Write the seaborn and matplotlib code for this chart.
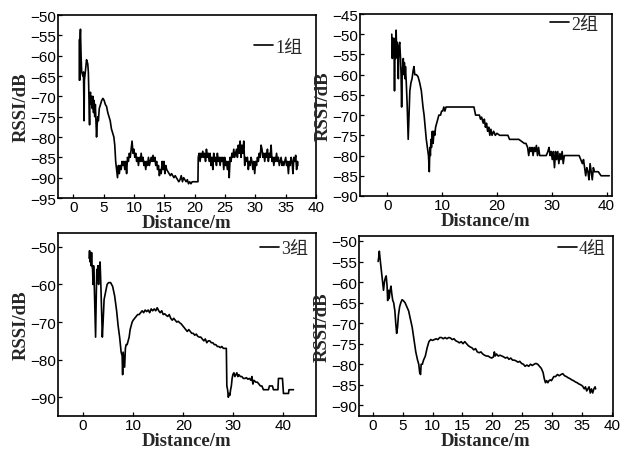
import numpy as np
import matplotlib
matplotlib.use("Agg")
import matplotlib.pyplot as plt
import seaborn as sns

group1 = [
    (1.0, -66), (1.05, -56), (1.1, -66), (1.15, -55), (1.2, -53.5), (1.3, -60), (1.4, -64), (1.6, -65),
    (1.7, -64), (1.8, -76), (1.85, -66), (2.0, -64), (2.2, -61), (2.4, -62), (2.5, -64), (2.6, -70),
    (2.7, -77), (2.75, -70), (2.85, -69), (2.95, -72), (3.05, -70), (3.15, -73), (3.25, -70), (3.35, -74),
    (3.45, -71), (3.55, -75), (3.65, -72), (3.75, -76), (3.85, -80), (3.95, -77), (4.05, -75), (4.15, -76),
    (4.3, -73), (4.5, -72), (4.7, -71), (4.9, -70.5), (5.1, -71), (5.3, -72), (5.5, -72.5), (5.7, -74),
    (5.9, -75), (6.1, -76), (6.3, -78), (6.5, -79), (6.7, -80), (6.85, -82), (7.0, -86), (7.15, -88),
    (7.3, -90), (7.45, -87), (7.6, -89), (7.75, -87), (7.9, -88), (8.05, -86), (8.2, -87), (8.35, -86),
    (8.5, -88), (8.65, -86), (8.8, -89), (8.95, -85), (9.1, -86), (9.25, -84), (9.4, -85), (9.55, -83),
    (9.7, -81), (9.85, -84), (10.0, -83), (10.15, -85), (10.3, -84), (10.45, -86), (10.6, -85), (10.75, -87),
    (10.9, -85), (11.05, -86), (11.2, -84), (11.35, -86), (11.5, -85), (11.65, -87), (11.8, -86), (11.95, -88),
    (12.1, -86), (12.25, -87), (12.4, -85), (12.55, -87), (12.7, -86), (12.85, -85), (13.0, -86), (13.15, -84.5),
    (13.3, -86), (13.45, -85), (13.6, -87), (13.75, -86), (13.9, -88), (14.05, -87), (14.2, -89.5), (14.35, -88),
    (14.5, -89), (14.65, -86), (14.8, -88), (14.95, -86), (15.1, -89), (15.25, -87), (15.4, -88), (15.6, -88.5),
    (15.8, -89), (16.0, -89.5), (16.2, -89), (16.4, -89.5), (16.6, -90), (16.8, -89.5), (17.0, -90), (17.2, -90.5),
    (17.4, -91), (17.6, -90.5), (17.8, -89.5), (18.0, -91), (18.2, -90), (18.4, -90.5), (18.6, -91), (18.8, -90.5),
    (19.0, -91.5), (19.2, -91), (19.4, -91.5), (19.6, -91), (19.8, -91), (20.0, -91), (20.3, -91), (20.55, -91),
    (20.6, -85), (20.75, -84), (20.9, -86), (21.05, -84), (21.2, -85), (21.35, -83.5), (21.5, -85), (21.65, -84),
    (21.8, -86), (21.95, -83), (22.1, -85), (22.25, -84), (22.4, -86), (22.55, -84), (22.7, -87), (22.85, -85),
    (23.0, -88), (23.15, -84), (23.3, -86), (23.45, -85), (23.6, -87), (23.75, -84), (23.9, -86), (24.05, -85),
    (24.2, -87), (24.35, -85), (24.5, -86), (24.65, -85), (24.8, -88), (24.95, -85), (25.1, -87), (25.25, -86),
    (25.4, -88), (25.55, -86), (25.7, -90), (25.85, -85), (26.0, -86), (26.15, -84), (26.3, -85), (26.45, -83),
    (26.6, -85), (26.75, -84), (26.9, -83), (27.05, -85), (27.2, -82), (27.35, -84), (27.5, -81), (27.65, -85),
    (27.8, -82), (27.95, -84), (28.1, -81), (28.25, -87), (28.4, -85), (28.55, -86), (28.7, -85), (28.85, -88),
    (29.0, -86), (29.15, -87), (29.3, -85), (29.45, -86), (29.6, -88), (29.75, -86), (29.9, -89), (30.05, -86),
    (30.2, -87), (30.35, -85), (30.5, -86), (30.65, -84), (30.8, -85), (30.95, -82), (31.1, -83), (31.25, -85),
    (31.4, -84), (31.55, -86), (31.7, -84), (31.85, -85), (32.0, -83), (32.15, -86), (32.3, -84), (32.45, -85),
    (32.6, -82), (32.75, -86), (32.9, -85), (33.05, -87), (33.2, -85), (33.35, -86), (33.5, -84), (33.65, -86),
    (33.8, -85), (33.95, -87), (34.1, -86), (34.25, -85), (34.4, -87), (34.55, -86), (34.7, -87), (34.85, -86),
    (35.0, -85), (35.15, -87), (35.3, -86), (35.45, -89), (35.6, -86), (35.75, -87), (35.9, -85), (36.05, -86),
    (36.2, -89), (36.35, -85), (36.5, -86), (36.65, -84.5), (36.8, -88), (36.95, -86), (37.0, -87),
]

group2 = [
    (0.8, -50), (0.9, -56), (1.0, -51), (1.1, -55), (1.2, -51), (1.3, -64), (1.4, -52), (1.5, -56),
    (1.6, -49), (1.7, -55), (1.8, -52), (1.9, -57), (2.0, -61), (2.1, -53), (2.25, -52), (2.4, -56),
    (2.5, -60), (2.6, -68), (2.7, -60), (2.8, -58), (2.9, -56), (3.0, -60), (3.1, -57), (3.2, -61),
    (3.3, -58), (3.45, -62), (3.6, -67), (3.8, -76), (3.95, -70), (4.1, -64), (4.3, -62), (4.5, -61),
    (4.7, -59), (4.85, -58), (5.0, -60), (5.3, -60), (5.6, -60.5), (5.9, -62), (6.2, -64), (6.5, -68),
    (6.7, -70), (6.9, -73), (7.1, -76), (7.3, -78), (7.5, -80), (7.65, -84), (7.75, -78), (7.85, -80),
    (7.95, -76), (8.05, -78), (8.2, -74), (8.35, -77), (8.5, -74), (8.65, -75), (8.8, -73), (9.0, -72),
    (9.2, -71), (9.4, -70), (9.7, -70), (9.9, -69), (10.1, -69), (10.3, -68), (10.5, -69), (10.7, -68),
    (11.0, -68), (12.0, -68), (13.0, -68), (14.0, -68), (15.0, -68), (15.8, -68), (16.1, -70), (16.5, -70),
    (16.8, -70), (17.0, -71), (17.2, -70.5), (17.5, -72), (17.7, -71), (17.9, -73), (18.1, -72), (18.3, -74),
    (18.5, -73), (18.7, -75), (18.9, -73.5), (19.1, -75), (19.4, -74), (19.7, -75), (20.0, -74.5), (20.5, -75),
    (21.0, -75), (21.5, -75), (22.0, -75), (22.3, -76), (23.0, -76), (23.5, -76), (24.0, -76), (24.5, -76.5),
    (25.0, -77), (25.3, -77), (25.6, -78), (25.8, -80), (26.0, -78), (26.2, -79), (26.4, -78), (26.6, -80),
    (26.8, -78), (27.0, -79), (27.2, -77.5), (27.4, -80), (27.6, -78), (27.8, -80), (28.0, -80), (28.5, -80),
    (29.0, -80), (29.3, -79), (29.5, -78), (29.7, -80), (29.9, -79), (30.1, -81), (30.3, -79), (30.5, -83),
    (30.7, -79), (30.9, -81), (31.1, -79), (31.3, -82), (31.5, -79.5), (31.7, -81), (31.9, -79), (32.1, -82),
    (32.3, -80), (32.5, -80), (33.0, -80), (34.0, -80), (35.0, -80), (35.3, -81), (35.6, -82), (35.8, -81),
    (36.0, -83), (36.2, -85), (36.4, -83), (36.6, -84), (36.8, -86), (37.0, -82), (37.2, -84), (37.4, -86),
    (37.6, -83), (37.8, -84), (38.0, -84), (38.5, -84), (39.0, -85), (40.0, -85), (40.5, -85),
]

group3 = [
    (1.2, -53), (1.3, -51), (1.4, -54), (1.5, -52), (1.6, -55), (1.7, -51.5), (1.8, -55), (1.9, -56),
    (2.0, -60), (2.1, -55), (2.2, -58), (2.35, -66), (2.5, -74), (2.65, -62), (2.75, -56), (2.85, -58),
    (2.95, -55), (3.1, -60), (3.2, -55), (3.3, -57), (3.4, -54), (3.55, -60), (3.7, -67), (3.85, -74),
    (4.0, -70), (4.2, -64), (4.5, -62), (4.8, -60), (5.1, -59.5), (5.5, -59.5), (5.9, -60.5), (6.3, -63),
    (6.7, -67), (7.0, -71), (7.3, -74), (7.6, -78), (7.8, -79), (7.9, -84), (8.0, -78), (8.15, -80),
    (8.3, -82), (8.45, -77), (8.6, -76), (8.8, -76), (9.0, -75), (9.2, -74), (9.4, -72), (9.6, -71),
    (9.8, -70), (10.0, -69.5), (10.3, -69), (10.6, -68.5), (10.9, -68), (11.2, -68), (11.5, -67.5), (11.8, -67),
    (12.1, -67.5), (12.4, -66.8), (12.7, -67.2), (13.0, -66.8), (13.3, -67.5), (13.6, -66.5), (13.9, -67), (14.2, -66.5),
    (14.5, -67), (14.8, -66.2), (15.1, -67), (15.4, -67.5), (15.7, -67), (16.0, -68), (16.3, -67.8), (16.6, -68.2),
    (16.9, -68.5), (17.2, -68), (17.5, -69), (17.8, -69.5), (18.1, -69), (18.4, -69.5), (18.7, -70), (19.0, -69.8),
    (19.3, -70.2), (19.6, -70.5), (19.9, -71), (20.2, -71.5), (20.5, -72), (20.8, -72.5), (21.1, -72), (21.4, -72.5),
    (21.7, -73), (22.0, -73), (22.3, -73.5), (22.6, -73.2), (22.9, -73.8), (23.2, -74), (23.5, -74), (23.8, -74.5),
    (24.1, -75), (24.4, -74.5), (24.7, -75.5), (25.0, -75), (25.3, -75), (25.6, -75.5), (25.9, -75.5), (26.2, -76),
    (26.5, -76), (26.8, -76.5), (27.1, -76.5), (27.4, -76.8), (27.7, -76.5), (28.0, -77), (28.3, -77), (28.6, -77),
    (28.7, -87), (28.85, -88), (29.0, -90), (29.15, -89), (29.3, -89.5), (29.45, -88), (29.6, -87), (29.75, -85),
    (29.9, -84), (30.1, -83.5), (30.3, -84.5), (30.5, -84), (30.7, -83.5), (30.9, -84.5), (31.1, -84), (31.4, -84.5),
    (31.7, -84.5), (32.0, -85), (32.3, -85), (32.6, -84.8), (32.9, -85.2), (33.2, -85), (33.5, -85.5), (33.7, -84.5),
    (33.9, -86.5), (34.1, -85.5), (34.5, -86), (34.8, -86), (35.1, -86.5), (35.4, -87), (35.7, -87), (36.0, -88),
    (36.5, -88), (37.0, -88), (37.2, -87), (37.8, -87), (38.0, -88), (38.5, -88), (38.9, -88), (39.0, -85),
    (39.5, -85), (39.8, -85), (40.0, -89), (40.5, -89), (41.0, -89), (41.1, -88), (41.5, -88), (42.0, -88),
]

group4 = [
    (0.9, -55), (1.0, -54), (1.1, -52.5), (1.2, -54), (1.35, -56), (1.5, -58), (1.65, -60), (1.8, -62),
    (1.95, -60), (2.1, -59), (2.25, -58.5), (2.4, -61), (2.5, -64.5), (2.6, -62), (2.75, -64), (2.9, -62),
    (3.05, -61), (3.2, -63), (3.35, -64.5), (3.5, -65), (3.7, -67), (3.85, -70), (4.0, -72.5), (4.15, -71),
    (4.3, -68), (4.5, -66), (4.7, -65), (4.9, -64.3), (5.1, -64.5), (5.4, -65), (5.7, -66), (6.0, -67),
    (6.3, -69), (6.6, -71), (6.9, -74), (7.2, -77), (7.5, -79), (7.7, -80), (7.85, -82), (8.0, -82.5),
    (8.1, -80), (8.3, -80), (8.5, -79), (8.8, -78), (9.1, -76), (9.4, -74.5), (9.7, -74), (10.0, -74.2),
    (10.3, -74), (10.6, -73.8), (10.9, -74), (11.2, -73.5), (11.5, -73.5), (11.8, -73.8), (12.1, -73.5), (12.4, -73.8),
    (12.7, -73.5), (13.0, -73.6), (13.3, -74), (13.6, -73.8), (13.9, -74.3), (14.2, -74.5), (14.5, -74.8), (14.8, -74.5),
    (15.1, -75), (15.4, -74.5), (15.7, -75), (16.0, -75.5), (16.3, -75.8), (16.6, -76), (16.9, -76.5), (17.2, -76.2),
    (17.5, -77), (17.8, -77.2), (18.1, -77), (18.4, -77.5), (18.7, -77.8), (19.0, -78), (19.3, -78), (19.6, -78.3),
    (19.9, -78.5), (20.2, -78.2), (20.35, -77), (20.5, -78), (20.7, -77.5), (21.0, -78), (21.3, -77.8), (21.6, -78),
    (21.9, -78.2), (22.2, -78.5), (22.5, -78.3), (22.8, -78.8), (23.1, -78.5), (23.4, -79), (23.7, -79), (24.0, -79.2),
    (24.3, -79.5), (24.6, -79.3), (24.9, -79.8), (25.2, -80), (25.5, -80.5), (25.8, -80.2), (26.1, -80.5), (26.4, -80),
    (26.7, -80.3), (27.0, -80), (27.3, -79.8), (27.6, -80), (27.9, -80.5), (28.2, -81), (28.5, -82), (28.7, -83.5),
    (28.9, -84.5), (29.1, -84), (29.3, -84.5), (29.5, -84), (29.7, -83.8), (29.9, -84), (30.1, -83.5), (30.3, -83),
    (30.6, -83), (30.9, -82.5), (31.2, -82.8), (31.5, -82.5), (31.8, -82.3), (32.1, -82.8), (32.4, -83), (32.7, -83.3),
    (33.0, -83.5), (33.3, -83.8), (33.6, -84), (33.9, -84.3), (34.2, -84.5), (34.5, -84.8), (34.8, -85), (35.1, -85.3),
    (35.4, -86), (35.6, -85.5), (35.8, -86.5), (36.0, -86), (36.2, -85.5), (36.4, -87), (36.6, -86), (36.8, -87),
    (37.0, -86), (37.2, -85.5), (37.3, -86),
]

labels = ["1组", "2组", "3组", "4组"]
xticks = [np.arange(0, 41, 5), np.arange(0, 41, 10), np.arange(0, 41, 10), np.arange(0, 41, 5)]
yticks = [np.arange(-95, -49, 5), np.arange(-90, -44, 5), np.arange(-90, -49, 10), np.arange(-90, -49, 5)]

sns.set_theme(style="ticks")
plt.rcParams["font.family"] = ["Liberation Sans", "DejaVu Sans"]
plt.rcParams.update({
    "xtick.direction": "in",
    "ytick.direction": "in",
    "xtick.major.size": 3,
    "ytick.major.size": 3,
    "xtick.major.width": 0.9,
    "ytick.major.width": 0.9,
    "xtick.major.pad": 1.5,
    "ytick.major.pad": 1.5,
    "axes.linewidth": 1.2,
    "axes.edgecolor": "black",
    "xtick.color": "black",
    "ytick.color": "black",
})

serif = ["Liberation Serif", "Noto Sans CJK SC"]

fig = plt.figure(figsize=(6.21, 4.52), dpi=100)
# axes boxes in figure fractions (left, bottom, width, height)
boxes = [
    (0.0934, 0.5597, 0.4155, 0.4049),
    (0.5797, 0.5642, 0.4058, 0.4026),
    (0.0934, 0.0774, 0.4155, 0.4049),
    (0.5781, 0.0774, 0.4090, 0.3982),
]
xlims = [(-2.5, 40), (-5, 41), (-5, 46.5), (-2.3, 40.2)]
ylims = [(-95, -50), (-90, -45), (-95, -46.3), (-92.6, -48.8)]
legend_pos = [(0.946, 0.825), (0.944, 0.945), (0.969, 0.913), (0.972, 0.928)]

for i, data in enumerate([group1, group2, group3, group4]):
    ax = fig.add_axes(boxes[i])
    dist = [p[0] for p in data]
    rssi = [p[1] for p in data]
    sns.lineplot(x=dist, y=rssi, ax=ax, color="black", linewidth=1.2,
                 estimator=None, sort=False, label=labels[i])
    ax.set_xlim(*xlims[i])
    ax.set_ylim(*ylims[i])
    ax.set_xticks(xticks[i])
    ax.set_yticks(yticks[i])
    ax.tick_params(labelsize=11)
    ax.set_xlabel("Distance/m", fontsize=13.5, fontweight="bold", family=serif, labelpad=0)
    ax.set_ylabel("RSSI/dB", fontsize=13.5, fontweight="bold", family=serif, labelpad=0)
    leg = ax.legend(loc="center right", bbox_to_anchor=legend_pos[i], frameon=False,
                    handlelength=1.05, handletextpad=0.1, borderpad=0, borderaxespad=0,
                    prop={"family": serif, "size": 13})

fig.savefig("out.png", dpi=100)
